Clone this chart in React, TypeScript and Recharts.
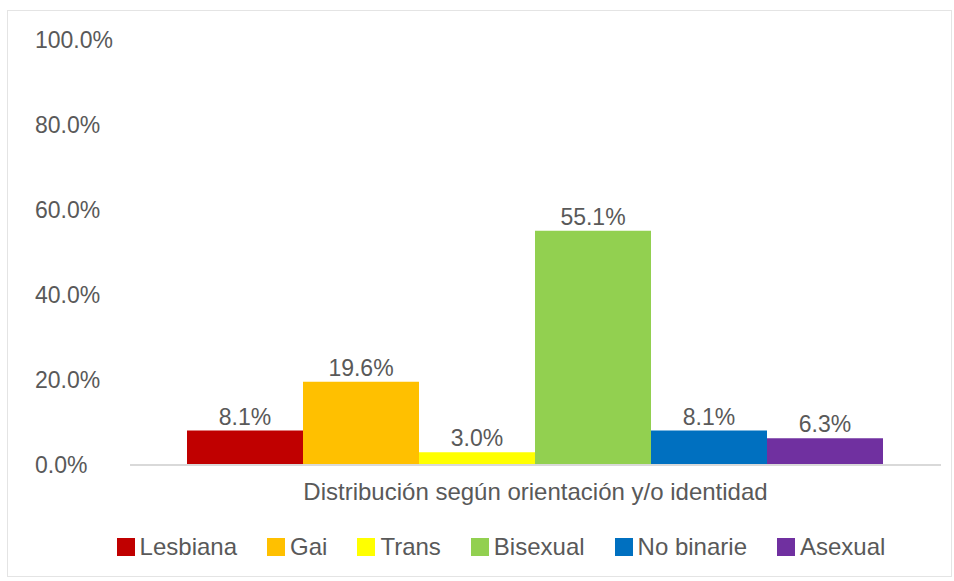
import React from "react";
import { BarChart, Bar, XAxis, YAxis, Legend, LabelList } from "recharts";

const category = "Distribución según orientación y/o identidad";
const seriesNames = ["Lesbiana", "Gai", "Trans", "Bisexual", "No binarie", "Asexual"];
const seriesValues = [8.1, 19.6, 3.0, 55.1, 8.1, 6.3];
const seriesColors = ["#C00000", "#FFC000", "#FFFF00", "#92D050", "#0070C0", "#7030A0"];
const yTicks = [0, 20, 40, 60, 80, 100];

const row: Record<string, any> = { name: category };
seriesNames.forEach((n, i) => {
  row[n] = seriesValues[i];
});
const data = [row];

const FONT = "'Liberation Sans', Arial, sans-serif";
const TEXT = "#595959";

const fmt = (v: number) => `${Number(v).toFixed(1)}%`;

const YTick = (props: any) => {
  const { y, payload } = props;
  return (
    <text x={35} y={y} dy={8} textAnchor="start" fill={TEXT} fontSize={23} fontFamily={FONT}>
      {fmt(payload.value)}
    </text>
  );
};

const XTick = (props: any) => {
  const { x, y, payload } = props;
  return (
    <text x={x} y={y} dy={27} textAnchor="middle" fill={TEXT} fontSize={24} fontFamily={FONT}>
      {payload.value}
    </text>
  );
};

const LegendContent = () => (
  <div
    style={{
      display: "flex",
      justifyContent: "center",
      alignItems: "center",
      paddingRight: 9,
      fontFamily: FONT,
      fontSize: 24,
      color: TEXT,
      height: 26,
    }}
  >
    {seriesNames.map((n, i) => (
      <div key={n} style={{ display: "flex", alignItems: "center", marginRight: i < seriesNames.length - 1 ? 30 : 0 }}>
        <div style={{ width: 18, height: 18, background: seriesColors[i], marginRight: 5 }} />
        <span>{n}</span>
      </div>
    ))}
  </div>
);

export default function App() {
  return (
    <div style={{ position: "absolute", left: 0, top: 0, width: 954, height: 581, background: "#fff" }}>
      <div
        style={{
          position: "absolute",
          left: 7,
          top: 10,
          width: 945,
          height: 567,
          border: "1px solid #e4e4e4",
          boxSizing: "border-box",
        }}
      />
      <BarChart
        width={954}
        height={581}
        data={data}
        margin={{ top: 40, right: 13, left: 70, bottom: 21 }}
        barGap={0}
        barCategoryGap={57}
      >
        <XAxis
          dataKey="name"
          tickLine={false}
          axisLine={{ stroke: "#d9d9d9", strokeWidth: 2 }}
          tick={<XTick />}
          height={69}
        />
        <YAxis
          domain={[0, 100]}
          ticks={yTicks}
          axisLine={false}
          tickLine={false}
          tick={<YTick />}
          width={60}
          interval={0}
        />
        <Legend verticalAlign="bottom" content={<LegendContent />} />
        {seriesNames.map((n, i) => (
          <Bar key={n} dataKey={n} fill={seriesColors[i]} isAnimationActive={false}>
            <LabelList
              dataKey={n}
              position="top"
              offset={6}
              formatter={(v: any) => fmt(v)}
              fill={TEXT}
              fontSize={23}
              fontFamily={FONT}
            />
          </Bar>
        ))}
      </BarChart>
    </div>
  );
}
